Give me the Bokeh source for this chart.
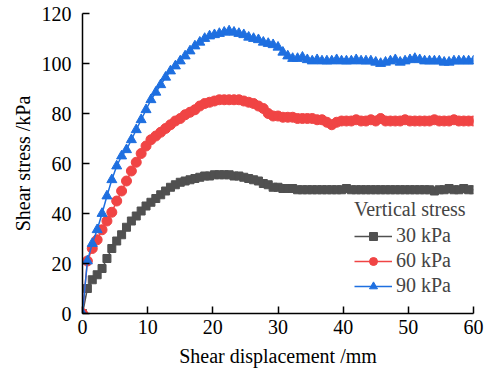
from bokeh.plotting import figure
from bokeh.models import Range1d, Legend, LegendItem, FixedTicker
from bokeh.embed import file_html
from bokeh.resources import INLINE

# Shear displacement (mm)
disp = [0, 0.75, 1.5, 2.25, 3, 3.75, 4.5, 5.25, 6, 6.75, 7.5, 8.25, 9, 9.75,
        10.5, 11.25, 12, 12.75, 13.5, 14.25, 15, 15.75, 16.5, 17.25, 18, 18.75,
        19.5, 20.25, 21, 21.75, 22.5, 23.25, 24, 24.75, 25.5, 26.25, 27, 27.75,
        28.5, 29.25, 30, 30.75, 31.5, 32.25, 33, 33.75, 34.5, 35.25, 36, 36.75,
        37.5, 38.25, 39, 39.75, 40.5, 41.25, 42, 42.75, 43.5, 44.25, 45, 45.75,
        46.5, 47.25, 48, 48.75, 49.5, 50.25, 51, 51.75, 52.5, 53.25, 54, 54.75,
        55.5, 56.25, 57, 57.75, 58.5, 59.25, 60]

# Shear stress (kPa) for each vertical stress
s30 = [0, 10, 13.5, 15.5, 18, 22, 26, 29, 31.5, 34.5, 37, 39, 41, 43,
       44.5, 46, 47.5, 49, 50.5, 51.5, 52.5, 53, 53.5, 54, 54.5, 55,
       55, 55.5, 55.5, 55.5, 55.5, 55, 55, 54.5, 54, 53.5, 53, 52,
       51.5, 50.5, 50.5, 50, 50, 50, 49.5, 49.5, 49.5, 49.5, 49.5, 49.5,
       49.5, 49.5, 49.5, 49.5, 50, 49.5, 49.5, 49.5, 49.5, 49.5, 49.5, 49.5,
       49.5, 49.5, 49.5, 49.5, 49.5, 49.5, 49.5, 49.5, 49.5, 49.5, 49, 49.5,
       49.5, 50, 49.5, 49.5, 50, 49.5, 49.5]

s60 = [0, 21, 26, 29.5, 33.5, 37, 40.5, 45, 49, 53, 57, 60.5, 64, 67,
       69.5, 71, 72.5, 74, 75.5, 77, 78, 79.5, 80.5, 81.5, 83, 84,
       84.5, 85, 85.5, 85.5, 85.5, 85.5, 85.5, 85, 84.5, 84, 83, 82,
       80, 79, 79, 78.5, 78.5, 78.5, 78, 78, 78, 78, 77.5, 77.5,
       76.5, 75.5, 76.5, 77, 77, 77, 77.5, 77, 77, 77.5, 77, 78,
       77, 77, 77, 77, 77.5, 77, 77, 77, 77, 77, 77.5, 77,
       77, 77, 77.5, 77, 77, 77, 77]

s90 = [0, 21, 28, 33.5, 40, 47, 53.5, 59, 63, 65.5, 69.5, 73.5, 77.5, 81.5,
       85.5, 88.5, 91.5, 94.5, 97, 99, 101, 103, 105, 107, 108.5, 110,
       111, 111.5, 112, 112.5, 113, 112.5, 112, 111.5, 110.5, 110, 109.5, 108.5,
       108, 107.5, 106.5, 104.5, 103, 102, 102, 102.5, 101.5, 101, 101.5, 101,
       101, 101, 101.5, 101, 101, 101, 101.5, 101, 101, 101, 100.5, 100,
       100.5, 101, 101.5, 100.5, 101, 101.5, 102, 101.5, 101, 101, 101, 101,
       100.5, 100.5, 101, 101, 101, 101, 101]

labels = ["30 kPa", "60 kPa", "90 kPa"]
x_ticks = [0, 10, 20, 30, 40, 50, 60]
y_ticks = [0, 20, 40, 60, 80, 100, 120]

FONT = "Liberation Serif"
FS = "20px"

p = figure(width=485, height=370, output_backend="svg", toolbar_location=None,
           x_range=Range1d(0, 60), y_range=Range1d(0, 120),
           min_border_left=82, min_border_right=12, min_border_top=13, min_border_bottom=57)
p.outline_line_color = None
p.xgrid.visible = False
p.ygrid.visible = False
p.background_fill_color = "white"
p.border_fill_color = "white"

series = [
    (s30, "#505050", "square", 8),
    (s60, "#f04444", "circle", 10),
    (s90, "#1e6fe0", "triangle", 10),
]
items = []
for (ys, color, marker, size), lab in zip(series, labels):
    ln = p.line(disp, ys, line_color=color, line_width=1.5)
    sc = p.scatter(disp, ys, marker=marker, size=size, fill_color=color, line_color=color)
    items.append(LegendItem(label=lab, renderers=[ln, sc]))

for ax, ticks in ((p.xaxis[0], x_ticks), (p.yaxis[0], y_ticks)):
    ax.ticker = FixedTicker(ticks=ticks)
    ax.minor_tick_line_color = None
    ax.major_tick_in = 7
    ax.major_tick_out = 0
    ax.axis_line_width = 1.5
    ax.major_tick_line_width = 1.5
    ax.axis_line_color = "black"
    ax.major_tick_line_color = "black"
    ax.major_label_text_font = FONT
    ax.major_label_text_font_size = FS
    ax.major_label_text_color = "black"
    ax.axis_label_text_font = FONT
    ax.axis_label_text_font_size = FS
    ax.axis_label_text_font_style = "normal"
    ax.axis_label_text_color = "black"

p.xaxis.axis_label = "Shear displacement /mm"
p.yaxis.axis_label = "Shear stress /kPa"
p.xaxis.major_label_standoff = 6
p.yaxis.major_label_standoff = 11
p.xaxis.axis_label_standoff = 8
p.yaxis.axis_label_standoff = 5

legend = Legend(items=items, location=(272, 16), title="Vertical stress",
                title_text_font=FONT, title_text_font_size=FS, title_text_font_style="normal",
                label_text_font=FONT, label_text_font_size=FS,
                glyph_width=38, glyph_height=20, label_height=20, spacing=2,
                padding=0, margin=0, title_standoff=3, label_standoff=4,
                border_line_alpha=0, background_fill_alpha=0)
p.add_layout(legend)

open("out.html", "w").write(file_html(p, INLINE))
